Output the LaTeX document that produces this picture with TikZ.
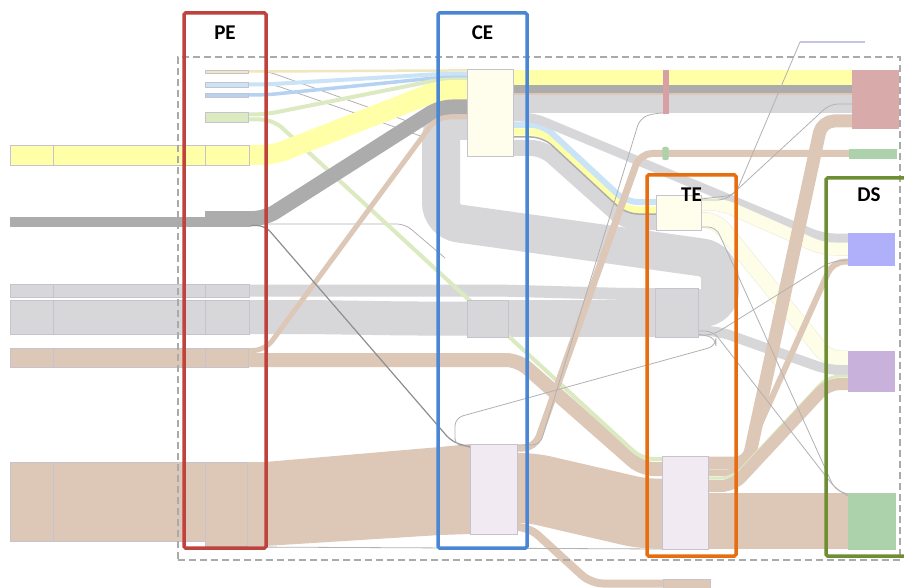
\documentclass[tikz,border=0pt]{standalone}
\usepackage{fontspec}
\setsansfont{Carlito}
\usetikzlibrary{calc, positioning, backgrounds}
\definecolor{yel}{RGB}{255,255,168}
\definecolor{dgr}{RGB}{172,172,172}
\definecolor{lgr}{RGB}{215,215,218}
\definecolor{tanc}{RGB}{221,199,183}
\definecolor{pale}{RGB}{240,230,192}
\definecolor{crm}{RGB}{255,253,236}
\definecolor{crmband}{RGB}{254,254,232}
\definecolor{crmedge}{RGB}{232,232,214}
\definecolor{lav}{RGB}{241,234,243}
\definecolor{lblu}{RGB}{202,227,246}
\definecolor{blu}{RGB}{182,210,242}
\definecolor{lgrn}{RGB}{219,234,192}
\definecolor{rednd}{RGB}{216,170,170}
\definecolor{grnnd}{RGB}{172,210,172}
\definecolor{blund}{RGB}{176,176,250}
\definecolor{purnd}{RGB}{200,178,220}
\definecolor{pinkmk}{RGB}{215,160,165}
\definecolor{lavline}{RGB}{196,196,232}
\definecolor{edgec}{RGB}{198,194,206}
\definecolor{gline}{RGB}{178,178,178}
\definecolor{dashc}{RGB}{170,170,170}
\definecolor{pebox}{RGB}{192,66,60}
\definecolor{cebox}{RGB}{74,134,212}
\definecolor{tebox}{RGB}{230,110,16}
\definecolor{dsbox}{RGB}{110,142,52}

% band: start, end, straight part out, straight part in
\newcommand{\flowlink}[5][]{%
  \path (#2) coordinate (fS) (#3) coordinate (fE);
  \draw[lnk,#1] (fS) -- ++(#4,0) -- ($(fE)+(-#5,0)$) -- (fE);}

\begin{document}
\begin{tikzpicture}[x=1pt, y=-1pt,
  blk/.style={rectangle, draw=edgec, line width=0.4pt, inner sep=0pt, outer sep=0pt},
  lnk/.style={rounded corners=12pt},
  gl/.style={draw=gline, line width=0.8pt, rounded corners=8pt},
  grp/.style={rectangle, line width=3.5pt, rounded corners=1.5pt, inner sep=0pt, outer sep=0pt},
  dashframe/.style={rectangle, draw=dashc, line width=1.8pt, dash pattern=on 7pt off 4pt, inner sep=0pt},
  lbl/.style={font=\sffamily\bfseries\fontsize{21}{21}\selectfont, inner sep=0pt},
]
\useasboundingbox (0,0) rectangle (904,588);

% PE small inputs
\node[blk, fill=pale, minimum width=43, minimum height=3]  (pes1) at (226.5,71.5) {};
\node[blk, fill=lblu, minimum width=43, minimum height=5]  (pes2) at (226.5,84.5) {};
\node[blk, fill=blu,  minimum width=43, minimum height=4]  (pes3) at (226.5,95) {};
\node[blk, fill=lgrn, minimum width=43, minimum height=10] (pes4) at (226.5,117) {};

% left rows
\node[blk, fill=yel, minimum width=43,  minimum height=20] (ya)  at (31.5,155) {};
\node[blk, fill=yel, minimum width=152, minimum height=20] (yb)  at (129,155) {};
\node[blk, fill=yel, minimum width=44,  minimum height=20] (pey) at (227,155) {};
\node[blk, draw=dgr, fill=dgr, minimum width=195, minimum height=9]  (da)  at (107.5,221.5) {};
\node[blk, draw=dgr, fill=dgr, minimum width=45,  minimum height=15] (ped) at (227.5,218.5) {};
\node[blk, fill=lgr, minimum width=43,  minimum height=13] (ga1) at (31.5,290.5) {};
\node[blk, fill=lgr, minimum width=152, minimum height=13] (gb1) at (129,290.5) {};
\node[blk, fill=lgr, minimum width=44,  minimum height=13] (pg1) at (227,290.5) {};
\node[blk, fill=lgr, minimum width=43,  minimum height=34] (ga2) at (31.5,317) {};
\node[blk, fill=lgr, minimum width=152, minimum height=34] (gb2) at (129,317) {};
\node[blk, fill=lgr, minimum width=44,  minimum height=34] (pg2) at (227,317) {};
\node[blk, fill=tanc, minimum width=43,  minimum height=19] (ta)  at (31.5,357.5) {};
\node[blk, fill=tanc, minimum width=152, minimum height=19] (tb)  at (129,357.5) {};
\node[blk, fill=tanc, minimum width=43,  minimum height=19] (pet) at (226.5,357.5) {};
\node[blk, fill=tanc, minimum width=43,  minimum height=79] (tba) at (31.5,501.5) {};
\node[blk, fill=tanc, minimum width=152, minimum height=79] (tbb) at (129,501.5) {};
\node[blk, fill=tanc, minimum width=42,  minimum height=84] (petb) at (226,504) {};

% CE
\node[blk, fill=crm, minimum width=46, minimum height=87] (cec) at (490,112.5) {};
\node[blk, fill=lgr, minimum width=41, minimum height=37] (ceg) at (487.5,318.5) {};
\node[blk, fill=lav, minimum width=47, minimum height=90] (cel) at (493.5,489) {};

% TE
\node[blk, fill=crm, minimum width=45, minimum height=35] (tec) at (678.5,212.5) {};
\node[blk, fill=lgr, minimum width=43, minimum height=49] (teg) at (676.5,312.5) {};
\node[blk, fill=lav, minimum width=46, minimum height=93] (tel) at (685,502.5) {};
\node[blk, fill=tanc, minimum width=47, minimum height=9] (exb) at (686.5,583.5) {};
\node[blk, draw=pinkmk, fill=pinkmk, minimum width=5, minimum height=43] (pk) at (665.5,91.5) {};
\node[blk, draw=grnnd, fill=grnnd, rounded corners=2pt, minimum width=6, minimum height=13] (gm) at (665.5,153.5) {};

% DS
\node[blk, draw=rednd, fill=rednd, minimum width=46, minimum height=58] (dsr) at (875,99) {};
\node[blk, draw=grnnd, fill=grnnd, minimum width=47, minimum height=9]  (dsm) at (872.5,153.5) {};
\node[blk, draw=blund, fill=blund, minimum width=46, minimum height=32] (dsb) at (871,249) {};
\node[blk, draw=purnd, fill=purnd, minimum width=46, minimum height=40] (dsp) at (871,371) {};
\node[blk, draw=grnnd, fill=grnnd, minimum width=47, minimum height=56] (dsg) at (871.5,521) {};

\coordinate (tl) at (865,42);
\coordinate (tk) at (800,42);

\begin{scope}[on background layer]
\fill[white] (0,0) rectangle (904,588);

% faint lines under the loop
\draw[gl] (pes1.east) -- ++(20,0) -- (432,130);
\draw[gl] (pes2.east) -- ++(25,0) -- (432,140);
\draw[gl] ($(ped.south east)+(0,-2)$) -- (405,224) -- (445,258);

% loop
\draw[lgr, line width=38pt, rounded corners=18pt] ($(cec.north west)+(0,52)$) -- (441,121) -- (441,221) -- (720,260) -- (720,308) -- ($(teg.north east)+(0,20)$);

% grey rows
\flowlink[lgr, line width=12pt]{pg1.east}{$(teg.north west)+(0,6)$}{250}{30}
\flowlink[lgr, line width=34pt]{pg2.east}{ceg.west}{60}{60}
\draw[lgr, line width=37pt] (ceg.east) -- (ceg.east -| teg.west);

% CE to red
\draw[lgr, line width=18pt] ($(cec.north east)+(0,35)$) -- ($(dsr.north west)+(0,34)$);
\draw[tanc, line width=2pt] ($(cec.north east)+(0,25)$) -- ($(dsr.north west)+(0,24)$);
\draw[dgr, line width=8pt] ($(cec.north east)+(0,20)$) -- ($(dsr.north west)+(0,19)$);
\draw[yel, line width=15pt] ($(cec.north east)+(0,8.5)$) -- ($(dsr.north west)+(0,7.5)$);

% CE to TE
\flowlink[lgr, line width=16pt]{$(cec.north east)+(0,79)$}{$(tec.north west)+(0,27)$}{30}{30}
\flowlink[yel, line width=7pt]{$(cec.north east)+(0,63)$}{$(tec.north west)+(0,15)$}{30}{30}
\flowlink[dgr, line width=1.5pt]{$(cec.north east)+(0,68)$}{$(tec.north west)+(0,19)$}{30}{30}
\flowlink[lblu, line width=6pt]{$(cec.north east)+(0,56)$}{$(tec.north west)+(0,7)$}{30}{30}
\flowlink[lgr, line width=9pt]{$(cec.north east)+(0,48)$}{$(dsb.north west)+(0,5)$}{20}{25}

% tan flows
\flowlink[tanc, line width=14pt]{$(pet.north east)+(0,12)$}{$(tel.north west)+(0,13)$}{270}{20}
\flowlink[lgrn, line width=4pt]{$(pes4.north east)+(0,7.5)$}{$(tel.north west)+(0,3)$}{25}{20}
\fill[tanc] (petb.north east) -- ++(18,0) -- (440,447) -- (cel.north west) -- (cel.south west) -- (440,535) -- (265,546) -- (petb.south east) -- cycle;
\flowlink[tanc, line width=70pt]{$(cel.north east)+(0,44)$}{$(tel.north west)+(0,57.5)$}{15}{20}
\flowlink[tanc, line width=8pt]{$(cel.north east)+(0,83)$}{exb.west}{12}{72}
\flowlink[tanc, line width=7pt]{$(cel.north east)+(0,4)$}{dsm.west}{18}{209}

% PE to CE
\flowlink[pale, line width=2.5pt]{pes1.east}{$(cec.north west)+(0,1.5)$}{17}{27}
\flowlink[lblu, line width=4pt]{pes2.east}{$(cec.north west)+(0,5)$}{17}{27}
\flowlink[blu, line width=3.5pt]{pes3.east}{$(cec.north west)+(0,8.5)$}{17}{27}
\flowlink[lgrn, line width=4pt]{$(pes4.north east)+(0,2.5)$}{$(cec.north west)+(0,10.5)$}{17}{27}
\flowlink[yel, line width=20pt]{pey.east}{$(cec.north west)+(0,21)$}{24}{27}
\flowlink[dgr, line width=15pt]{ped.east}{$(cec.north west)+(0,38)$}{15}{27}
\flowlink[tanc, line width=5pt]{$(pet.north east)+(0,2.5)$}{$(cec.north west)+(0,48)$}{17}{30}

% TE to DS
\flowlink[crmedge, line width=13pt]{$(tec.north east)+(0,9)$}{$(dsb.north west)+(0,16)$}{20}{25}
\flowlink[crmband, line width=12pt]{$(tec.north east)+(0,9)$}{$(dsb.north west)+(0,16)$}{20}{25}
\flowlink[crmedge, line width=16pt]{$(tec.north east)+(0,25)$}{$(dsp.north west)+(0,7.5)$}{15}{20}
\flowlink[crmband, line width=15pt]{$(tec.north east)+(0,25)$}{$(dsp.north west)+(0,7.5)$}{15}{20}
\flowlink[lgr, line width=10pt]{$(teg.north east)+(0,43)$}{$(dsp.north west)+(0,19)$}{20}{20}
\flowlink[tanc, line width=13pt]{$(tel.north east)+(0,7)$}{$(dsr.north west)+(0,51)$}{40}{30}
\flowlink[tanc, line width=6pt]{$(tel.north east)+(0,17)$}{$(dsb.north west)+(0,28.5)$}{30}{15}
\flowlink[lgrn, line width=3pt]{$(tel.north east)+(0,22)$}{$(dsp.north west)+(0,25)$}{25}{20}
\flowlink[tanc, line width=12pt]{$(tel.north east)+(0,30)$}{$(dsp.north west)+(0,33)$}{25}{20}
\draw[tanc, line width=56pt] (tel.east |- dsg.west) -- (dsg.west);

% thin grey lines
\draw[gl, draw=gline!80!black, line width=1.2pt] ($(ped.south east)+(0,-0.5)$) -- (265,225.5) -- (452,442) -- ($(cel.north west)+(0,3)$);
\draw[gl] ($(teg.south east)+(0,-3)$) -- (716,338) -- (716,346) -- (455,418) -- (455,446) -- ($(cel.north west)+(0,2)$);
\draw[gl] ($(cel.north east)+(0,1)$) -- (540,445) -- (640,118) -- (655,113) -- (663,113);
\draw[gl] ($(petb.south east)+(0,1)$) -- (tel.south west);
\draw[lavline, line width=1.2pt] (tl) -- (tk);
\draw[gl] (tk) -- (735,195) -- ($(tec.north east)+(0,4)$);
\draw[gl] ($(tec.south east)+(0,-3)$) -- ++(15,0) -- (835,490) -- ($(dsg.north west)+(0,1)$);
\draw[gl] ($(teg.south east)+(0,-2)$) -- ++(15,0) -- (830,262) -- ($(dsb.north west)+(0,27)$);
\draw[gl] ($(tec.north east)+(0,5)$) -- ++(25,0) -- (830,104) -- ($(dsr.north west)+(0,34)$);
\draw[gl] ($(teg.south east)+(0,-6)$) -- ++(15,0) -- (835,488) -- ($(dsg.north west)+(0,3)$);
\end{scope}

% frame and groups
\node[dashframe, minimum width=722, minimum height=503] (frm) at (539,308.5) {};
\node[grp, draw=pebox, minimum width=82, minimum height=535] (pe) at (225,280.5) {};
\node[grp, draw=cebox, minimum width=89, minimum height=535] (ce) at (482.5,280.5) {};
\node[grp, draw=tebox, minimum width=89, minimum height=381] (te) at (691.5,365.5) {};
\node[grp, draw=dsbox, minimum width=86, minimum height=378] (ds) at (869,367) {};

\node[lbl] (lblpe) at ($(pe.north)+(0,20)$) {PE};
\node[lbl] (lblce) at ($(ce.north)+(0,20)$) {CE};
\node[lbl] (lblte) at ($(te.north)+(0,20)$) {TE};
\node[lbl] (lblds) at ($(ds.north)+(0,17)$) {DS};
\end{tikzpicture}
\end{document}
